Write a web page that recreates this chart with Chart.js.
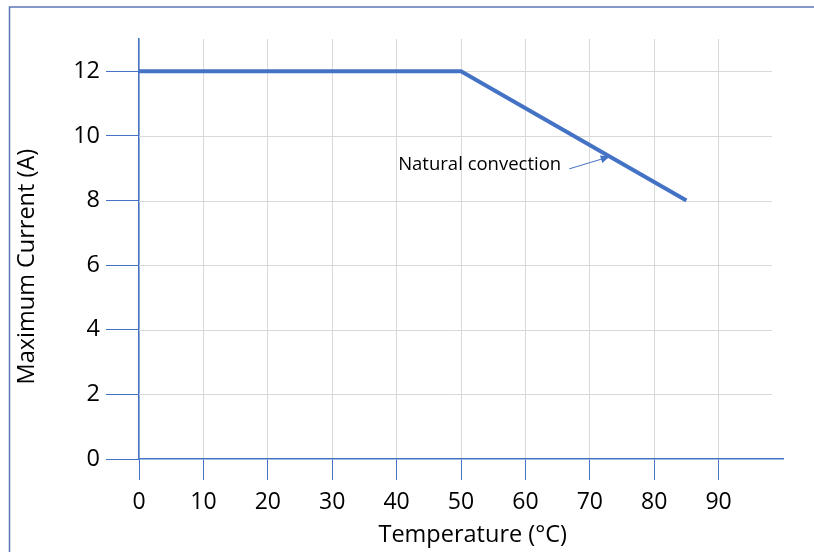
<!DOCTYPE html>
<html>
<head>
<meta charset="utf-8">
<script src="https://cdn.jsdelivr.net/npm/chart.js@4"></script>
<style>
  body { margin: 0; background: #fff; }
  canvas { display: block; }
</style>
</head>
<body>
<canvas id="myChart" width="814" height="552"></canvas>
<script>
// derating curve
let temps = [0, 50, 85];
let currents = [12, 12, 8];
let xTicks = [0, 10, 20, 30, 40, 50, 60, 70, 80, 90];
let yTicks = [0, 2, 4, 6, 8, 10, 12];
let noteText = 'Natural convection';
let noteAt = [52.9, 9.1];        // label centre (temp, current)
let arrowFrom = [66.8, 8.98];
let arrowTo = [73.1, 9.36];
let hGridEnd = 98.3;             // horizontal grid stops a bit short of the axis end

const blue = '#4472C4';
const grid = '#d9d9d9';
const font = '"Open Sans", "Noto Sans", sans-serif';

// frame, horizontal grid, annotation arrow
const extras = {
    id: 'extras',
    beforeDraw(chart) {
        let c = chart.ctx;
        c.save();
        c.fillStyle = '#fff';
        c.fillRect(0, 0, chart.width, chart.height);
        c.strokeStyle = '#5a78b5';
        c.lineWidth = 1.5;
        c.beginPath();
        c.moveTo(9.5, chart.height + 5);
        c.lineTo(9.5, 7);
        c.lineTo(chart.width + 5, 7);
        c.stroke();
        c.restore();
    },
    beforeDatasetsDraw(chart) {
        let c = chart.ctx;
        let xs = chart.scales.x, ys = chart.scales.y;
        let x0 = chart.chartArea.left, x1 = xs.getPixelForValue(hGridEnd);
        c.save();
        c.strokeStyle = grid;
        c.lineWidth = 1;
        yTicks.forEach(v => {
            if (v === 0) return;
            let y = Math.round(ys.getPixelForValue(v)) + 0.5;
            c.beginPath();
            c.moveTo(x0, y);
            c.lineTo(x1, y);
            c.stroke();
        });
        c.restore();
    },
    afterDatasetsDraw(chart) {
        let c = chart.ctx;
        let xs = chart.scales.x, ys = chart.scales.y;
        c.save();
        c.fillStyle = '#000';
        c.font = '18.5px ' + font;
        c.textAlign = 'center';
        c.textBaseline = 'middle';
        c.fillText(noteText, xs.getPixelForValue(noteAt[0]), ys.getPixelForValue(noteAt[1]));

        let x1 = xs.getPixelForValue(arrowFrom[0]), y1 = ys.getPixelForValue(arrowFrom[1]);
        let x2 = xs.getPixelForValue(arrowTo[0]), y2 = ys.getPixelForValue(arrowTo[1]);
        let a = Math.atan2(y2 - y1, x2 - x1);
        c.strokeStyle = blue;
        c.fillStyle = blue;
        c.lineWidth = 1;
        c.beginPath();
        c.moveTo(x1, y1);
        c.lineTo(x2 - 6 * Math.cos(a), y2 - 6 * Math.sin(a));
        c.stroke();
        c.beginPath();
        c.moveTo(x2, y2);
        c.lineTo(x2 - 9 * Math.cos(a) + 4 * Math.sin(a), y2 - 9 * Math.sin(a) - 4 * Math.cos(a));
        c.lineTo(x2 - 9 * Math.cos(a) - 4 * Math.sin(a), y2 - 9 * Math.sin(a) + 4 * Math.cos(a));
        c.closePath();
        c.fill();
        c.restore();
    }
};

let myChart = document.getElementById('myChart').getContext('2d');

let deratingChart = new Chart(myChart, {
    type: 'line',
    data: {
        datasets: [{
            data: temps.map((t, i) => ({ x: t, y: currents[i] })),
            borderColor: blue,
            borderWidth: 4,
            pointRadius: 0,
            fill: false,
            tension: 0
        }]
    },
    options: {
        responsive: false,
        animation: false,
        layout: { padding: { left: 0, top: 39, right: 31, bottom: 0 } },
        plugins: {
            legend: { display: false },
            tooltip: { enabled: false }
        },
        scales: {
            x: {
                type: 'linear',
                min: 0,
                max: 100,
                afterBuildTicks: s => { s.ticks = xTicks.concat([100]).map(v => ({ value: v })); },
                afterFit: s => { s.height = 93; },
                ticks: {
                    color: '#000',
                    font: { family: font, size: 23 },
                    padding: 9,
                    maxRotation: 0,
                    callback: v => xTicks.includes(v) ? v : ''
                },
                grid: {
                    color: ctx => ctx.tick && ctx.tick.value === 100 ? 'rgba(0,0,0,0)' : grid,
                    tickColor: ctx => ctx.tick && ctx.tick.value === 100 ? 'rgba(0,0,0,0)' : blue,
                    tickLength: 21,
                    lineWidth: 1
                },
                border: { color: blue, width: 1.5 },
                title: {
                    display: true,
                    // leading spaces nudge the title right, like the original
                    text: '\u2002\u2002Temperature (°C)',
                    color: '#000',
                    font: { family: font, size: 23.5 },
                    padding: { top: 0, bottom: 3 }
                }
            },
            y: {
                min: 0,
                max: 13,
                afterBuildTicks: s => { s.ticks = yTicks.map(v => ({ value: v })); },
                afterFit: s => { s.width = 139; },
                ticks: {
                    color: '#000',
                    font: { family: font, size: 23.5 },
                    padding: 6
                },
                grid: {
                    drawOnChartArea: false,
                    tickColor: blue,
                    tickLength: 33,
                    lineWidth: 1
                },
                border: { color: blue, width: 1.5 },
                title: {
                    display: true,
                    text: 'Maximum Current (A)\u2003\u2002',
                    color: '#000',
                    font: { family: font, size: 23.5 },
                    padding: { top: 13, bottom: 0 }
                }
            }
        }
    },
    plugins: [extras]
});
</script>
</body>
</html>
